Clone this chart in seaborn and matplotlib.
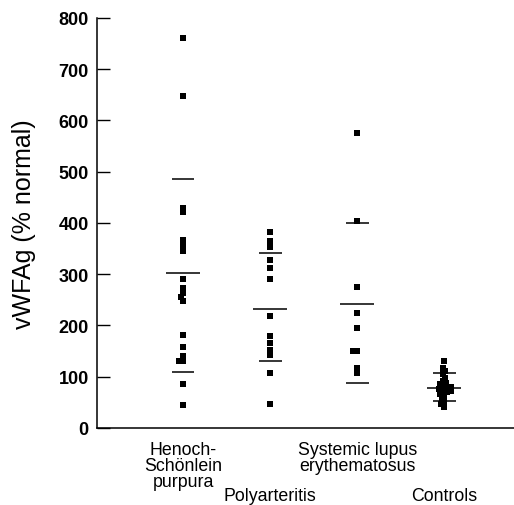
import matplotlib
matplotlib.use("Agg")
import matplotlib.pyplot as plt
import seaborn as sns
import pandas as pd
import numpy as np

# ---- data ----
categories = ["Henoch-\nSchönlein\npurpura", "Polyarteritis",
              "Systemic lupus\nerythematosus", "Controls"]
hsp_values = [760, 648, 430, 422, 366, 356, 346, 291, 273, 263, 255, 248,
              181, 158, 140, 131, 131, 86, 45]
pan_values = [383, 364, 354, 328, 312, 291, 218, 180, 165, 152, 142, 107, 47]
sle_values = [575, 404, 276, 224, 196, 151, 151, 117, 108]
ctrl_values = [130, 118, 112, 105, 98, 92, 88, 85, 82, 80, 78, 76, 74, 72,
               70, 67, 64, 58, 52, 46, 41]
mean_lines = [302, 233, 241, 78]
upper_lines = [485, 341, 400, 107]
lower_lines = [110, 130, 87, 53]
y_ticks = [0, 100, 200, 300, 400, 500, 600, 700, 800]
y_label = "vWFAg (% normal)"

groups = [hsp_values, pan_values, sle_values, ctrl_values]
df = pd.DataFrame({
    "group": np.concatenate([[c] * len(v) for c, v in zip(categories, groups)]),
    "value": np.concatenate(groups),
})

sns.set_theme(style="ticks")
plt.rcParams["font.family"] = ["Liberation Sans", "DejaVu Sans"]

fig = plt.figure(figsize=(5.14, 5.06), dpi=100)
ax = fig.add_axes([0.1887, 0.1522, 0.8113, 0.8103])
ax.set_xlim(-0.99, 3.80)
ax.set_ylim(0, 800)

sns.swarmplot(data=df, x="group", y="value", order=categories, color="black",
              marker="s", size=2.9, linewidth=0, ax=ax)
ax.set_xlim(-0.99, 3.80)
ax.set_ylim(0, 800)

# compute the swarm layout with small markers, freeze it, then enlarge squares
fig.canvas.draw()
for coll in ax.collections:
    if "draw" in coll.__dict__:
        del coll.draw
    coll.set_sizes([4.4 ** 2])

pos = np.arange(len(categories))
ax.hlines(mean_lines, pos - 0.195, pos + 0.195, color="black", lw=1.1)
ax.hlines(upper_lines, pos - 0.13, pos + 0.13, color="black", lw=1.1)
ax.hlines(lower_lines, pos - 0.13, pos + 0.13, color="black", lw=1.1)

ax.set_yticks(y_ticks)
ax.set_yticklabels([str(t) for t in y_ticks], fontsize=13, fontweight="bold")
ax.tick_params(axis="y", direction="in", length=9, width=1, pad=6, colors="black")
ax.tick_params(axis="x", length=0)
ax.set_xticks(pos)
ax.set_xticklabels([""] * len(categories))
ax.set_xlabel("")
ax.set_ylabel(y_label, fontsize=18, labelpad=16, color="black")

for s in ["top", "right"]:
    ax.spines[s].set_visible(False)
for s in ["left", "bottom"]:
    ax.spines[s].set_linewidth(1.1)
    ax.spines[s].set_color("black")

for i, lab in enumerate(categories):
    off = -13 if i % 2 == 0 else -59
    ax.annotate(lab, xy=(i, 0), xycoords=("data", "axes fraction"),
                xytext=(0, off), textcoords="offset pixels",
                ha="center", va="top", fontsize=12.8, linespacing=0.92,
                color="black", annotation_clip=False)

fig.savefig("out.png", dpi=100)
